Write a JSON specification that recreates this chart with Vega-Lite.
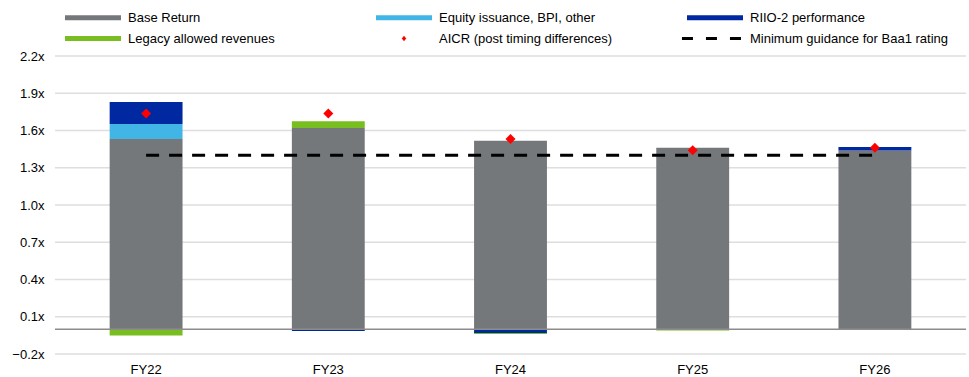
{
  "$schema": "https://vega.github.io/schema/vega-lite/v6.json",
  "width": 911,
  "height": 298,
  "autosize": {"type": "none"},
  "padding": {"left": 55, "top": 56, "right": 3, "bottom": 23},
  "config": {
    "view": {"stroke": null},
    "font": "Liberation Sans",
    "axis": {"labelFont": "Liberation Sans", "labelFontSize": 13, "labelColor": "#000000"},
    "legend": {"labelFont": "Liberation Sans", "labelFontSize": 13, "labelColor": "#000000"}
  },
  "datasets": {
    "bars": [
      {"year": "FY22", "series": "Base Return", "value": 1.532},
      {"year": "FY22", "series": "Equity issuance, BPI, other", "value": 0.121},
      {"year": "FY22", "series": "RIIO-2 performance", "value": 0.177},
      {"year": "FY22", "series": "Legacy allowed revenues", "value": -0.052},
      {"year": "FY23", "series": "Base Return", "value": 1.62},
      {"year": "FY23", "series": "Equity issuance, BPI, other", "value": -0.004},
      {"year": "FY23", "series": "RIIO-2 performance", "value": -0.01},
      {"year": "FY23", "series": "Legacy allowed revenues", "value": 0.054},
      {"year": "FY24", "series": "Base Return", "value": 1.518},
      {"year": "FY24", "series": "Equity issuance, BPI, other", "value": 0},
      {"year": "FY24", "series": "RIIO-2 performance", "value": -0.03},
      {"year": "FY24", "series": "Legacy allowed revenues", "value": -0.008},
      {"year": "FY25", "series": "Base Return", "value": 1.462},
      {"year": "FY25", "series": "Equity issuance, BPI, other", "value": 0},
      {"year": "FY25", "series": "RIIO-2 performance", "value": -0.006},
      {"year": "FY25", "series": "Legacy allowed revenues", "value": -0.004},
      {"year": "FY26", "series": "Base Return", "value": 1.438},
      {"year": "FY26", "series": "Equity issuance, BPI, other", "value": 0},
      {"year": "FY26", "series": "RIIO-2 performance", "value": 0.03},
      {"year": "FY26", "series": "Legacy allowed revenues", "value": -0.003}
    ],
    "aicr": [
      {"year": "FY22", "value": 1.736},
      {"year": "FY23", "value": 1.736},
      {"year": "FY24", "value": 1.532},
      {"year": "FY25", "value": 1.44},
      {"year": "FY26", "value": 1.462}
    ],
    "guide": [
      {"year": "FY22", "end": "FY26", "value": 1.4}
    ],
    "zero": [
      {"value": 0}
    ],
    "gridlines": [
      {"value": -0.2}, {"value": 0.1}, {"value": 0.4}, {"value": 0.7}, {"value": 1.0},
      {"value": 1.3}, {"value": 1.6}, {"value": 1.9}, {"value": 2.2}
    ]
  },
  "encoding": {
    "y": {
      "field": "value",
      "type": "quantitative",
      "scale": {"domain": [-0.2, 2.2], "nice": false, "zero": false},
      "axis": {
        "title": null,
        "values": [-0.2, 0.1, 0.4, 0.7, 1.0, 1.3, 1.6, 1.9, 2.2],
        "labelExpr": "format(datum.value, '.1f') + 'x'",
        "labelOverlap": false,
        "ticks": false,
        "domain": false,
        "grid": false,
        "labelPadding": 11
      }
    }
  },
  "layer": [
    {
      "data": {"name": "gridlines"},
      "mark": {"type": "rule", "color": "#dedede", "strokeWidth": 1.5}
    },
    {
      "data": {"name": "bars"},
      "transform": [
        {"calculate": "indexof(['Base Return', 'Equity issuance, BPI, other', 'RIIO-2 performance', 'Legacy allowed revenues'], datum.series)", "as": "stackOrder"}
      ],
      "mark": {"type": "bar"},
      "encoding": {
        "x": {
          "field": "year",
          "type": "nominal",
          "scale": {"domain": ["FY22", "FY23", "FY24", "FY25", "FY26"], "paddingInner": 0.6, "paddingOuter": 0.3},
          "axis": {"title": null, "labelAngle": 0, "ticks": false, "domain": false, "grid": false, "labelPadding": 9}
        },
        "order": {"field": "stackOrder", "type": "quantitative", "sort": "ascending"},
        "color": {
          "field": "series",
          "type": "nominal",
          "scale": {
            "domain": ["Base Return", "Equity issuance, BPI, other", "RIIO-2 performance", "Legacy allowed revenues", "AICR (post timing differences)", "Minimum guidance for Baa1 rating"],
            "range": ["#75787b", "#41b6e6", "#0028a0", "#78be20", "#ff0000", "#000000"]
          },
          "legend": {
            "title": null,
            "orient": "none",
            "legendX": 10,
            "legendY": -45,
            "columns": 3,
            "direction": "horizontal",
            "gridAlign": "all",
            "columnPadding": 38,
            "rowPadding": 7,
            "padding": 0,
            "labelLimit": 400,
            "symbolSize": 100,
            "symbolStrokeWidth": 0,
            "encode": {
              "symbols": {
                "update": {
                  "x": {"value": 28},
                  "size": {"value": 3136},
                  "shape": {"signal": "datum.value === 'AICR (post timing differences)' ? 'M0,-0.1L0.08,0L0,0.1L-0.08,0Z' : datum.value === 'Minimum guidance for Baa1 rating' ? 'M-1.18,0H1' : 'M-1,-0.085H1V0.085H-1Z'"},
                  "fill": {"signal": "datum.value === 'Minimum guidance for Baa1 rating' ? 'transparent' : scale('color', datum.value)"},
                  "stroke": {"signal": "datum.value === 'Minimum guidance for Baa1 rating' ? '#000000' : 'transparent'"},
                  "strokeWidth": {"signal": "datum.value === 'Minimum guidance for Baa1 rating' ? 3 : 0"},
                  "strokeDash": {"signal": "datum.value === 'Minimum guidance for Baa1 rating' ? [11, 13] : [1, 0]"},
                  "opacity": {"value": 1}
                }
              },
              "labels": {
                "update": {
                  "x": {"value": 63}
                }
              }
            }
          }
        }
      }
    },
    {
      "data": {"name": "zero"},
      "mark": {"type": "rule", "color": "#8c8c8c", "strokeWidth": 1.5}
    },
    {
      "data": {"name": "guide"},
      "mark": {"type": "rule", "strokeWidth": 3, "strokeDash": [13, 10]},
      "encoding": {
        "x": {"field": "year", "type": "nominal"},
        "x2": {"field": "end"},
        "color": {"datum": "Minimum guidance for Baa1 rating"}
      }
    },
    {
      "data": {"name": "aicr"},
      "mark": {"type": "point", "shape": "diamond", "filled": true, "size": 100, "opacity": 1},
      "encoding": {
        "x": {"field": "year", "type": "nominal"},
        "color": {"datum": "AICR (post timing differences)"}
      }
    }
  ]
}
